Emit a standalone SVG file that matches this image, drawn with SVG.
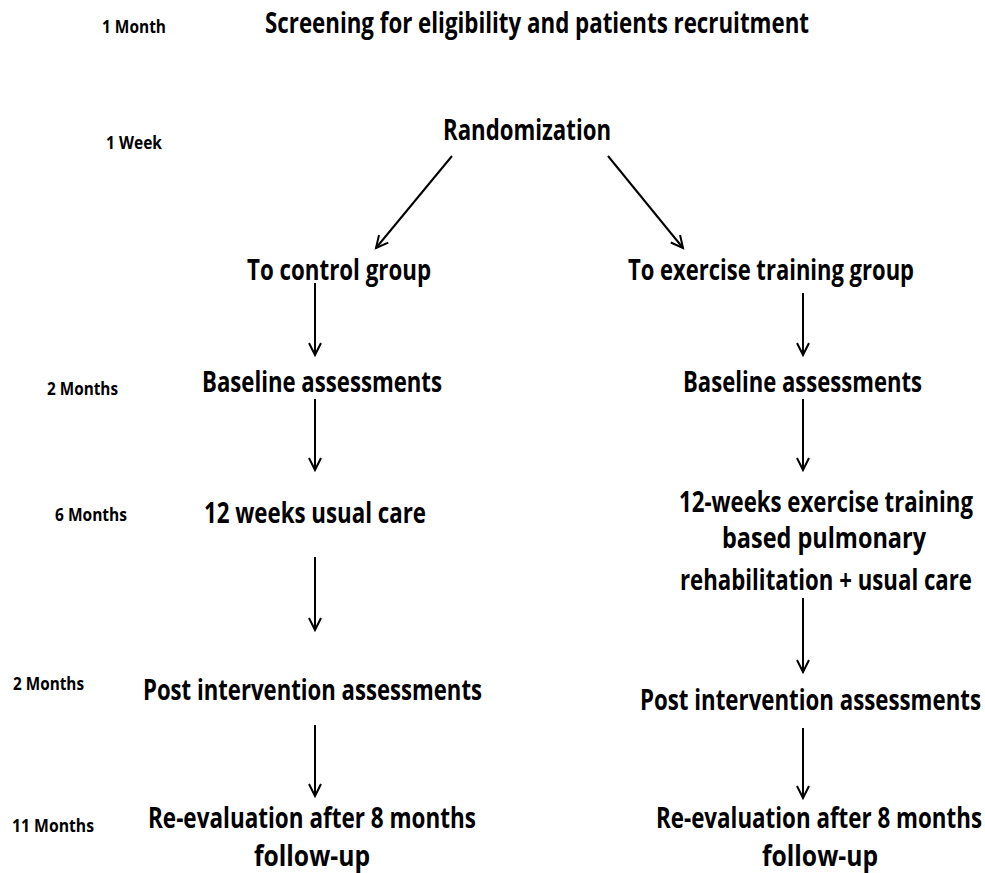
<svg xmlns="http://www.w3.org/2000/svg" width="985" height="873" viewBox="0 0 985 873">
<style>
.big{font-family:"Open Sans","Liberation Sans",sans-serif;font-weight:700;font-size:28px;fill:#000}
.small{font-family:"Open Sans","Liberation Sans",sans-serif;font-weight:700;font-size:17px;fill:#000}
.end{text-anchor:end}
.arrow{stroke:#000;stroke-width:2;fill:none;marker-end:url(#ah)}
</style>
<defs>
<marker id="ah" markerUnits="userSpaceOnUse" markerWidth="16" markerHeight="16" refX="13" refY="7" orient="auto">
<path d="M1,1 L13,7 L1,13" fill="none" stroke="#000" stroke-width="2"/>
</marker>
</defs>
<rect width="985" height="873" fill="#fff"/>
<g id="timeline">
<text class="small" x="102" y="33" textLength="64" lengthAdjust="spacingAndGlyphs">1 Month</text>
<text class="small" x="106" y="149" textLength="56" lengthAdjust="spacingAndGlyphs">1 Week</text>
<text class="small" x="47" y="395" textLength="71" lengthAdjust="spacingAndGlyphs">2 Months</text>
<text class="small" x="55" y="521" textLength="72" lengthAdjust="spacingAndGlyphs">6 Months</text>
<text class="small" x="13" y="690" textLength="71" lengthAdjust="spacingAndGlyphs">2 Months</text>
<text class="small" x="12" y="832" textLength="82" lengthAdjust="spacingAndGlyphs">11 Months</text>
</g>
<g id="screening"><text class="big" x="265" y="33" textLength="544" lengthAdjust="spacingAndGlyphs">Screening for eligibility and patients recruitment</text></g>
<g id="randomization"><text class="big" x="443" y="140" textLength="168" lengthAdjust="spacingAndGlyphs">Randomization</text></g>
<g id="control"><text class="big" x="247" y="280" textLength="184" lengthAdjust="spacingAndGlyphs">To control group</text></g>
<g id="exercise"><text class="big end" x="914" y="280" textLength="286" lengthAdjust="spacingAndGlyphs">To exercise training group</text></g>
<g id="baseline-control"><text class="big" x="202" y="392" textLength="240" lengthAdjust="spacingAndGlyphs">Baseline assessments</text></g>
<g id="baseline-exercise"><text class="big end" x="922" y="392" textLength="239" lengthAdjust="spacingAndGlyphs">Baseline assessments</text></g>
<g id="usual-care"><text class="big" x="204" y="523" textLength="222" lengthAdjust="spacingAndGlyphs">12 weeks usual care</text></g>
<g id="exercise-training">
<text class="big end" x="973" y="512" textLength="294" lengthAdjust="spacingAndGlyphs">12-weeks exercise training</text>
<text class="big end" x="926" y="548" textLength="204" lengthAdjust="spacingAndGlyphs">based pulmonary</text>
<text class="big end" x="972" y="590" textLength="292" lengthAdjust="spacingAndGlyphs">rehabilitation + usual care</text>
</g>
<g id="post-control"><text class="big" x="143" y="700" textLength="339" lengthAdjust="spacingAndGlyphs">Post intervention assessments</text></g>
<g id="post-exercise"><text class="big end" x="981" y="710" textLength="341" lengthAdjust="spacingAndGlyphs">Post intervention assessments</text></g>
<g id="reeval-control">
<text class="big" x="148" y="828" textLength="328" lengthAdjust="spacingAndGlyphs">Re-evaluation after 8 months</text>
<text class="big" x="254" y="866" textLength="116" lengthAdjust="spacingAndGlyphs">follow-up</text>
</g>
<g id="reeval-exercise">
<text class="big end" x="982" y="828" textLength="326" lengthAdjust="spacingAndGlyphs">Re-evaluation after 8 months</text>
<text class="big end" x="878" y="866" textLength="116" lengthAdjust="spacingAndGlyphs">follow-up</text>
</g>
<g id="connectors">
<line class="arrow" x1="452" y1="156" x2="376" y2="248"/>
<line class="arrow" x1="608" y1="156" x2="683" y2="248"/>
<line class="arrow" x1="315" y1="283" x2="315" y2="355"/>
<line class="arrow" x1="315" y1="399" x2="315" y2="470"/>
<line class="arrow" x1="315" y1="557" x2="315" y2="630"/>
<line class="arrow" x1="315" y1="725" x2="315" y2="796"/>
<line class="arrow" x1="803" y1="293" x2="803" y2="355"/>
<line class="arrow" x1="803" y1="399" x2="803" y2="470"/>
<line class="arrow" x1="803" y1="598" x2="803" y2="672"/>
<line class="arrow" x1="803" y1="728" x2="803" y2="798"/>
</g>
</svg>
